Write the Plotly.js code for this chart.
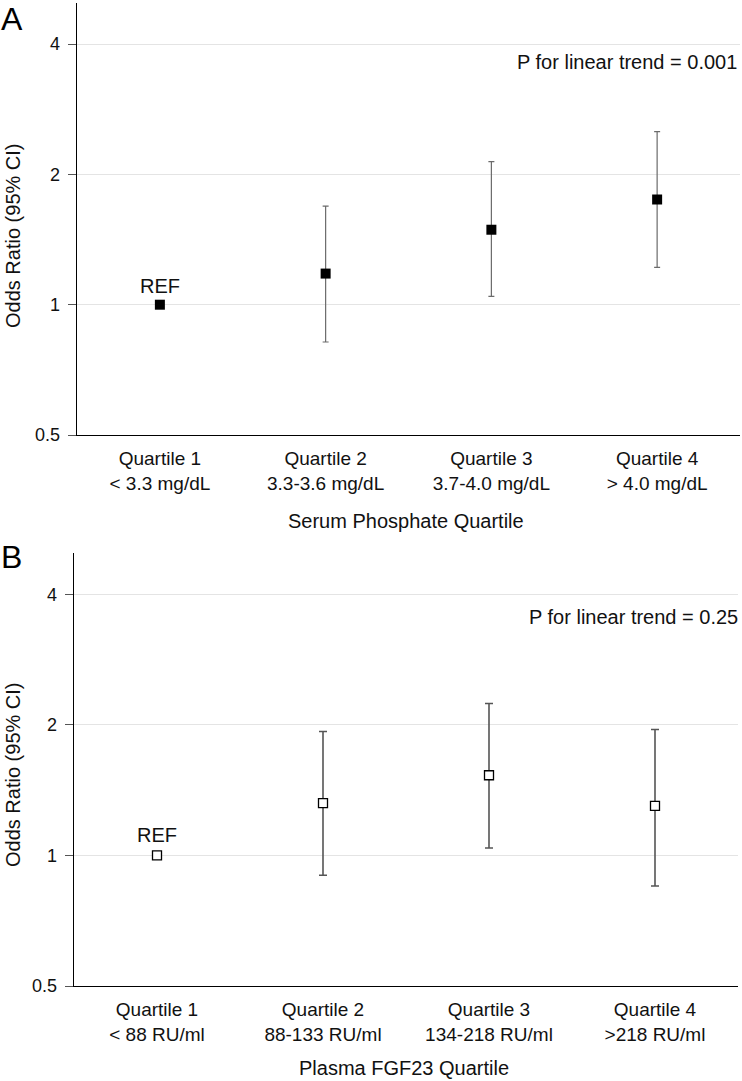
<!DOCTYPE html>
<html>
<head>
<meta charset="utf-8">
<script src="https://cdn.plot.ly/plotly-3.0.1.min.js"></script>
<style>html,body{margin:0;padding:0;background:#fff;}#chart{width:742px;height:1081px;}</style>
</head>
<body>
<div id="chart"></div>
<script>
// Panel A: Serum phosphate quartiles
const catsA1 = ["Quartile 1", "Quartile 2", "Quartile 3", "Quartile 4"];
const catsA2 = ["< 3.3 mg/dL", "3.3-3.6 mg/dL", "3.7-4.0 mg/dL", "> 4.0 mg/dL"];
const orA = [1.0, 1.18, 1.49, 1.75];
const loA = [1.0, 0.82, 1.045, 1.22];
const hiA = [1.0, 1.69, 2.14, 2.51];
// Panel B: Plasma FGF23 quartiles
const catsB1 = ["Quartile 1", "Quartile 2", "Quartile 3", "Quartile 4"];
const catsB2 = ["< 88 RU/ml", "88-133 RU/ml", "134-218 RU/ml", ">218 RU/ml"];
const orB = [1.0, 1.32, 1.53, 1.30];
const loB = [1.0, 0.90, 1.04, 0.85];
const hiB = [1.0, 1.93, 2.24, 1.95];
const yTicks = [0.5, 1, 2, 4];
const yTickText = ["0.5", "1", "2", "4"];
const pA = "P for linear trend = 0.001";
const pB = "P for linear trend = 0.25";
const xTitleA = "Serum Phosphate Quartile";
const xTitleB = "Plasma FGF23 Quartile";
const yTitle = "Odds Ratio (95% CI)";

const idx = [0, 1, 2, 3];
const upA = orA.map((v, i) => i === 0 ? null : hiA[i] - v);
const dnA = orA.map((v, i) => i === 0 ? null : v - loA[i]);
const upB = orB.map((v, i) => i === 0 ? null : hiB[i] - v);
const dnB = orB.map((v, i) => i === 0 ? null : v - loB[i]);

const F = "Liberation Sans, Arial, sans-serif";
const C = "#111";

const traces = [
  {
    x: idx, y: orA, type: "scatter", mode: "markers", xaxis: "x", yaxis: "y",
    marker: {symbol: "square", size: 10, color: "#000"},
    error_y: {type: "data", symmetric: false, array: upA, arrayminus: dnA, color: "#6b6b6b", thickness: 1.2, width: 3},
    hoverinfo: "skip", showlegend: false
  },
  {
    x: idx, y: orB, type: "scatter", mode: "markers", xaxis: "x2", yaxis: "y2",
    marker: {symbol: "square", size: 9, color: "#fff", line: {color: "#000", width: 1.3}},
    error_y: {type: "data", symmetric: false, array: upB, arrayminus: dnB, color: "#555", thickness: 1.6, width: 4},
    hoverinfo: "skip", showlegend: false
  },
  // invisible carriers so the second-line label axes are drawn
  {x: idx, y: orA, type: "scatter", mode: "markers", xaxis: "x3", yaxis: "y", marker: {opacity: 0}, hoverinfo: "skip", showlegend: false},
  {x: idx, y: orB, type: "scatter", mode: "markers", xaxis: "x4", yaxis: "y2", marker: {opacity: 0}, hoverinfo: "skip", showlegend: false}
];

const yr = [Math.log10(0.5), 0.697];
const yAxisBase = {
  type: "log", range: yr, tickvals: yTicks, ticktext: yTickText,
  showgrid: true, gridcolor: "#e4e4e4", gridwidth: 1,
  showline: true, linecolor: "#000", linewidth: 1.3,
  ticks: "outside", ticklen: 8, tickcolor: "#555", tickwidth: 1, ticklabelstandoff: 4,
  tickfont: {family: F, size: 18, color: C}, zeroline: false, fixedrange: true
};
const xAxisBase = {
  range: [-0.5, 3.5], tickvals: idx, showgrid: false, zeroline: false,
  showline: true, linecolor: "#000", linewidth: 1.3, ticks: "",
  tickfont: {family: F, size: 19, color: C}, fixedrange: true, ticklabelstandoff: 6
};
const xAxisLine2 = {
  range: [-0.5, 3.5], tickvals: idx, showgrid: false, zeroline: false,
  showline: false, ticks: "", side: "bottom",
  tickfont: {family: F, size: 19, color: C}, fixedrange: true, ticklabelstandoff: 35
};

const H = 1081, W = 742;
const domA = [77 / W, 740 / W], domB = [74 / W, 738 / W];
const layout = {
  width: W, height: H, margin: {l: 0, r: 0, t: 0, b: 0},
  paper_bgcolor: "#fff", plot_bgcolor: "#fff", showlegend: false,
  xaxis: Object.assign({}, xAxisBase, {domain: domA, ticktext: catsA1, anchor: "y"}),
  yaxis: Object.assign({}, yAxisBase, {domain: [1 - 435 / H, 1 - 3 / H], anchor: "x"}),
  xaxis2: Object.assign({}, xAxisBase, {domain: domB, ticktext: catsB1, anchor: "y2"}),
  yaxis2: Object.assign({}, yAxisBase, {domain: [1 - 986 / H, 1 - 553 / H], anchor: "x2"}),
  xaxis3: Object.assign({}, xAxisLine2, {domain: domA, ticktext: catsA2, anchor: "y", overlaying: "x"}),
  xaxis4: Object.assign({}, xAxisLine2, {domain: domB, ticktext: catsB2, anchor: "y2", overlaying: "x2"}),
  annotations: [
    {text: "A", xref: "paper", yref: "paper", x: 0, y: 1, xanchor: "left", yanchor: "top", borderpad: 0, showarrow: false, font: {family: F, size: 32, color: "#000"}},
    {text: "B", xref: "paper", yref: "paper", x: 0, y: 1 - 538 / H, xanchor: "left", yanchor: "top", borderpad: 0, showarrow: false, font: {family: F, size: 32, color: "#000"}},
    {text: pA, xref: "paper", yref: "paper", x: 739 / W, y: 1 - 62 / H, xanchor: "right", yanchor: "middle", showarrow: false, font: {family: F, size: 20, color: C}},
    {text: pB, xref: "paper", yref: "paper", x: 740 / W, y: 1 - 617 / H, xanchor: "right", yanchor: "middle", showarrow: false, font: {family: F, size: 20, color: C}},
    {text: "REF", xref: "x", yref: "y", x: 0, y: Math.log10(orA[0]), yshift: 19, showarrow: false, font: {family: F, size: 20, color: C}},
    {text: "REF", xref: "x2", yref: "y2", x: 0, y: Math.log10(orB[0]), yshift: 20, showarrow: false, font: {family: F, size: 20, color: C}},
    {text: xTitleA, xref: "paper", yref: "paper", x: 406 / W, y: 1 - 521 / H, xanchor: "center", yanchor: "middle", showarrow: false, font: {family: F, size: 20, color: C}},
    {text: xTitleB, xref: "paper", yref: "paper", x: 404 / W, y: 1 - 1068 / H, xanchor: "center", yanchor: "middle", showarrow: false, font: {family: F, size: 20, color: C}},
    {text: yTitle, xref: "paper", yref: "paper", x: 13 / W, y: 1 - 236 / H, xanchor: "center", yanchor: "middle", textangle: -90, showarrow: false, font: {family: F, size: 20, color: C}},
    {text: yTitle, xref: "paper", yref: "paper", x: 13 / W, y: 1 - 775 / H, xanchor: "center", yanchor: "middle", textangle: -90, showarrow: false, font: {family: F, size: 20, color: C}}
  ]
};

Plotly.newPlot("chart", traces, layout, {staticPlot: true, displayModeBar: false});
</script>
</body>
</html>
